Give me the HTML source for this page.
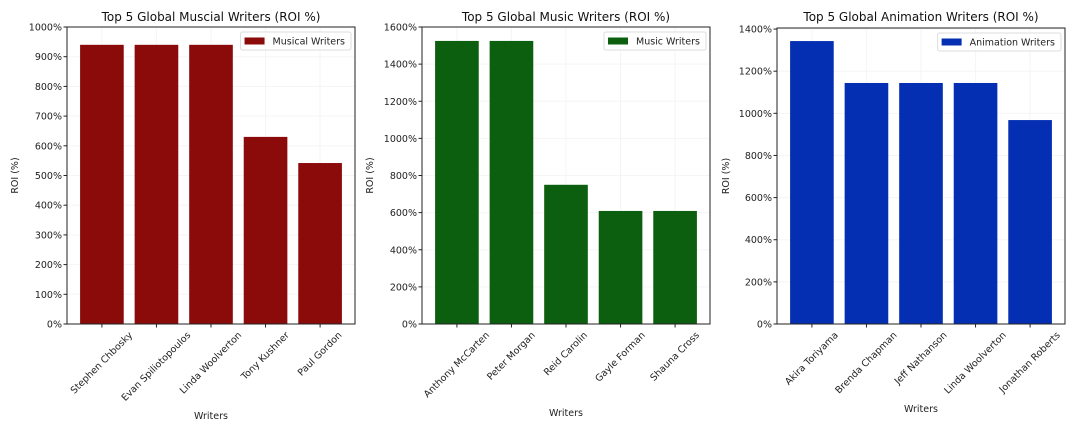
<!DOCTYPE html>
<html><head><meta charset="utf-8"><style>
body{margin:0;background:#fff;}
svg{display:block;font-family:"DejaVu Sans","Liberation Sans",sans-serif;}
</style></head><body>
<svg id="chart" width="1080" height="432" viewBox="0 0 1080 432"></svg>
<script>
const musicalNames = ["Stephen Chbosky","Evan Spiliotopoulos","Linda Woolverton","Tony Kushner","Paul Gordon"];
const musicalValues = [940,940,940,630,542];
const musicalTicks = [0,100,200,300,400,500,600,700,800,900,1000];
const musicNames = ["Anthony McCarten","Peter Morgan","Reid Carolin","Gayle Forman","Shauna Cross"];
const musicValues = [1525,1525,750,609,609];
const musicTicks = [0,200,400,600,800,1000,1200,1400,1600];
const animNames = ["Akira Toriyama","Brenda Chapman","Jeff Nathanson","Linda Woolverton","Jonathan Roberts"];
const animValues = [1343,1144,1144,1144,968];
const animTicks = [0,200,400,600,800,1000,1200,1400];

const NS="http://www.w3.org/2000/svg";
const svg=document.getElementById('chart');
function mk(tag,attrs,parent){const e=document.createElementNS(NS,tag);for(const k in attrs)e.setAttribute(k,attrs[k]);(parent||svg).appendChild(e);return e;}

function panel(cfg){
  const g=mk('g',{});
  
  
  const L=cfg.left,R=cfg.right,T=cfg.top,B=324;
  const xs=i=>L+(i+0.64)/5.28*(R-L);
  const ys=v=>B-v/cfg.ymax*(B-T);
  const bw=0.8/5.28*(R-L);
  cfg.ticks.forEach(t=>{const l=mk('line',{x1:L,x2:R,y1:ys(t),y2:ys(t),stroke:'#f5f5f5','stroke-width':1},g);
    });
  cfg.names.forEach((n,i)=>{const l=mk('line',{x1:xs(i),x2:xs(i),y1:T,y2:B,stroke:'#f5f5f5','stroke-width':1},g);
    });
  cfg.values.forEach((v,i)=>{const r=mk('rect',{x:xs(i)-bw/2,y:ys(v),width:bw,height:B-ys(v),fill:cfg.color},g);
    
    });
  const f=mk('rect',{x:L,y:T,width:R-L,height:B-T,fill:'none',stroke:'#222','stroke-width':1},g);
  
  cfg.ticks.forEach(t=>{
    mk('line',{x1:L-3.5,x2:L,y1:ys(t),y2:ys(t),stroke:'#222'},g);
    const tx=mk('text',{x:L-5,y:ys(t)+3.5,'font-size':9.5,'text-anchor':'end',fill:'#222'},g);
    tx.textContent=t+'%';
    
  });
  cfg.names.forEach((n,i)=>{
    const x=xs(i);
    mk('line',{x1:x,x2:x,y1:B,y2:B+3.5,stroke:'#222'},g);
    const tx=mk('text',{x:0,y:0,'font-size':9.5,'text-anchor':'middle','dominant-baseline':'central',fill:'#222'},g);
    tx.textContent=n;
    
    const w=tx.getComputedTextLength(),h=11;
    const bh=(w+h)*Math.SQRT1_2;
    tx.setAttribute('transform','translate('+x+','+(B+6+bh/2)+') rotate(-45)');
  });
  const ti=mk('text',{x:(L+R)/2,y:21,'font-size':12,'text-anchor':'middle',fill:'#111'},g);
  ti.textContent=cfg.title;
  const xt=mk('text',{x:(L+R)/2,y:cfg.xlabY,'font-size':9.5,'text-anchor':'middle',fill:'#222'},g);
  xt.textContent='Writers';
  const yt=mk('text',{x:0,y:0,'font-size':9.5,'text-anchor':'middle',fill:'#222',transform:'translate('+cfg.ylabX+','+((T+B)/2)+') rotate(-90)'},g);
  yt.textContent='ROI (%)';
  const lg=mk('g',{},g);
  
  const lt=mk('text',{x:0,y:0,'font-size':9.5,fill:'#222'},lg);lt.textContent=cfg.legend;
  const tw=lt.getComputedTextLength();
  const lw=tw+38, lx=R-4-lw, ly=T+5;
  const box=mk('rect',{x:lx,y:ly,width:lw,height:18,rx:2,fill:'#fff','fill-opacity':0.8,stroke:'#ddd'},lg);
  lg.insertBefore(box,lt);
  mk('rect',{x:lx+4,y:ly+5.5,width:20,height:7,fill:cfg.color},lg);
  lt.setAttribute('x',lx+32);lt.setAttribute('y',ly+12.5);
}
panel({key:'musical',left:67,right:355,top:27,ymax:1000,names:musicalNames,values:musicalValues,ticks:musicalTicks,color:'#8b0a0a',title:'Top 5 Global Muscial Writers (ROI %)',legend:'Musical Writers',ylabX:18,xlabY:419});
panel({key:'music',left:422,right:710,top:27,ymax:1600,names:musicNames,values:musicValues,ticks:musicTicks,color:'#0c5f0f',title:'Top 5 Global Music Writers (ROI %)',legend:'Music Writers',ylabX:373,xlabY:416});
panel({key:'animation',left:777,right:1065,top:28,ymax:1405,names:animNames,values:animValues,ticks:animTicks,color:'#052fb3',title:'Top 5 Global Animation Writers (ROI %)',legend:'Animation Writers',ylabX:729,xlabY:412});
</script>
</body></html>
